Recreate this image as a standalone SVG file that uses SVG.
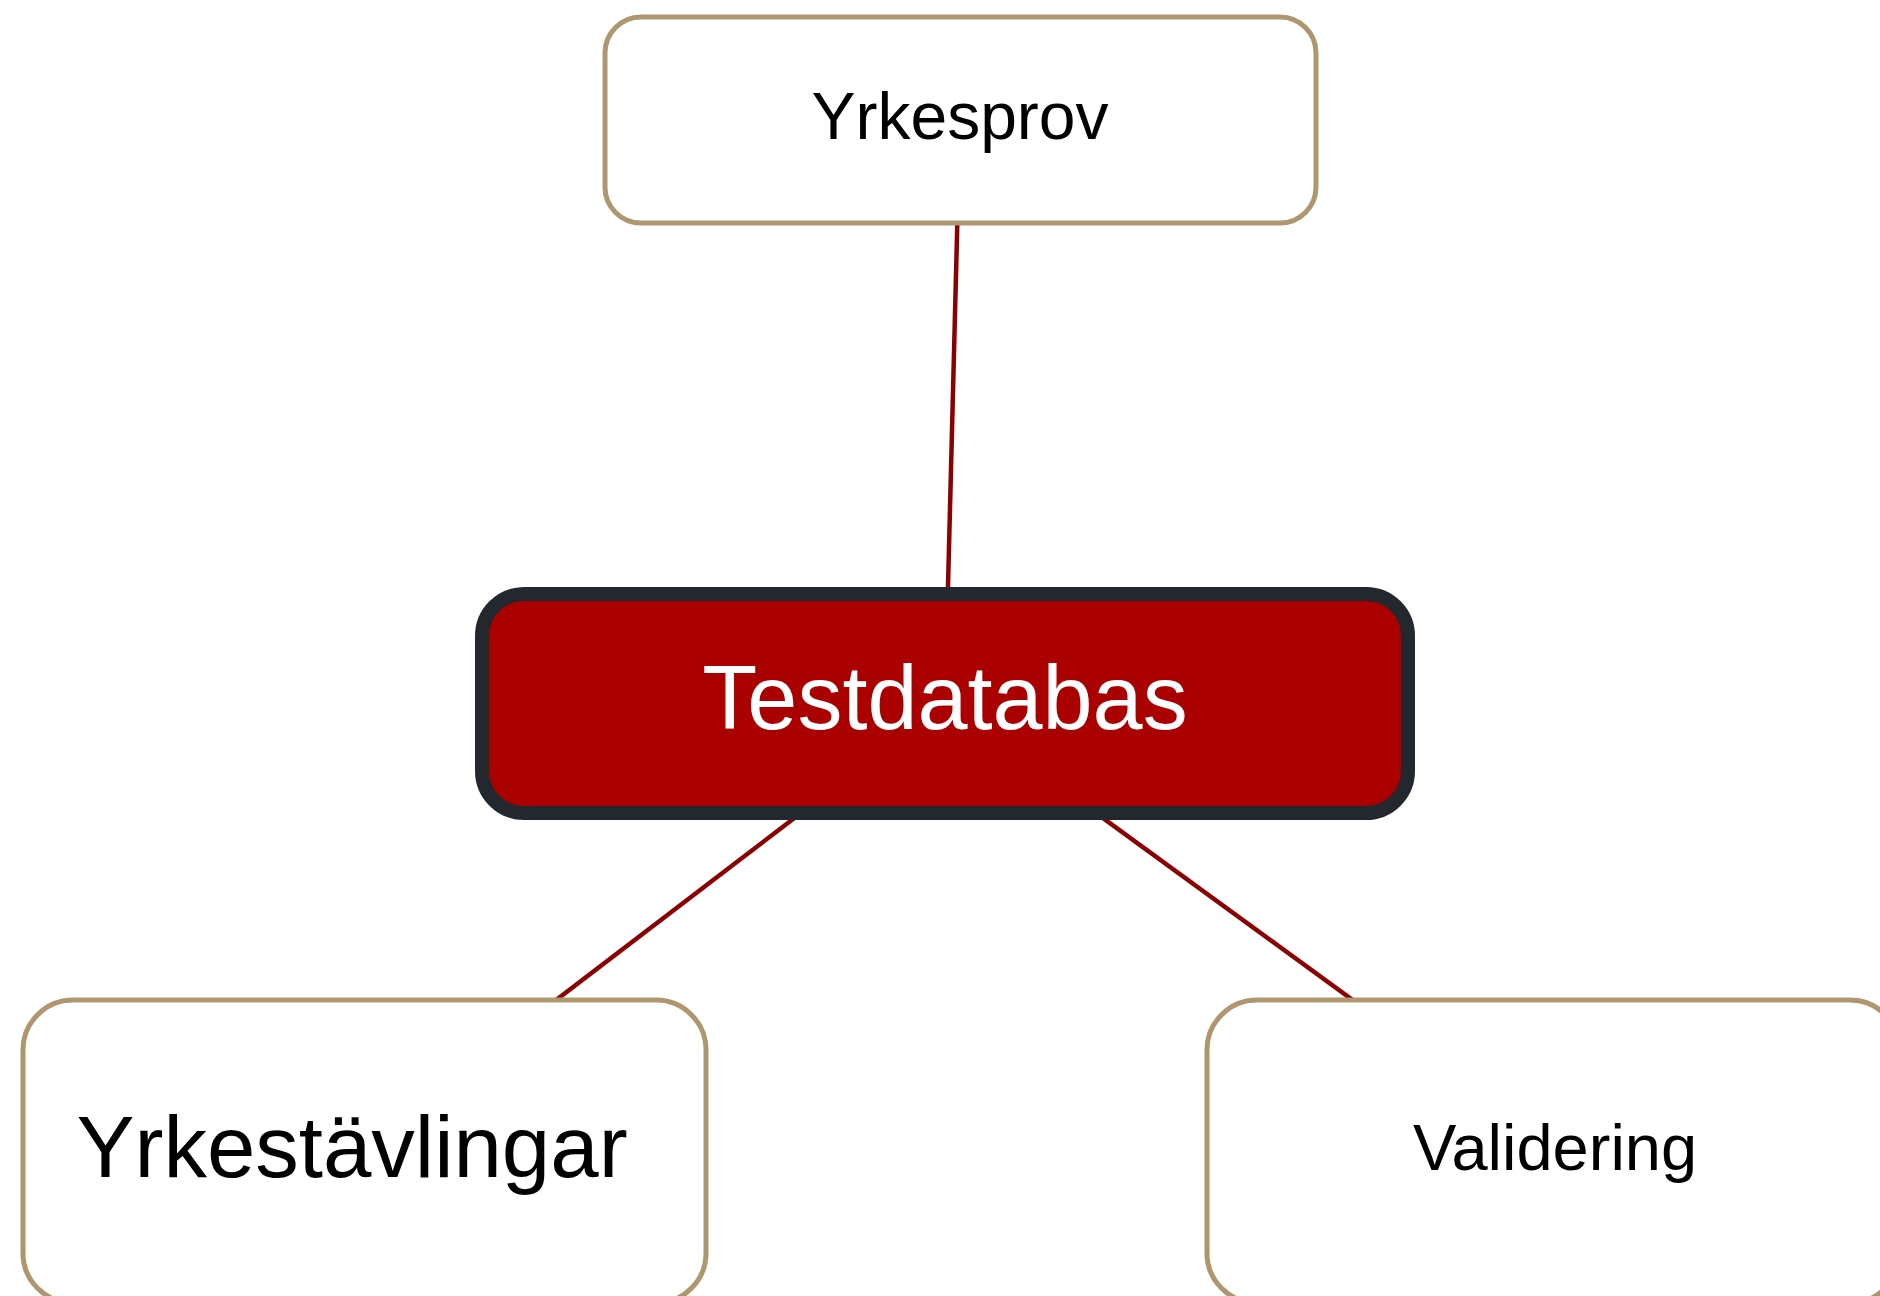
<svg xmlns="http://www.w3.org/2000/svg" width="1880" height="1296" viewBox="0 0 1880 1296">
<style>
.leaf{fill:#ffffff;stroke:#AF966E;stroke-width:5}
.hub{fill:#AA0000;stroke:#22282E;stroke-width:14}
.lbl{font-family:"Liberation Sans",Arial,sans-serif;text-anchor:middle;fill:#000}
.conn{stroke:#8B0000;stroke-width:4.5;fill:none}
</style>
<rect width="1880" height="1296" fill="#ffffff"/>
<g id="connectors">
<line class="conn" x1="960" y1="119" x2="945" y2="703"/>
<line class="conn" x1="945" y1="703" x2="365" y2="1146"/>
<line class="conn" x1="945" y1="703" x2="1553" y2="1146"/>
</g>
<g id="node-yrkesprov">
<rect class="leaf" x="605" y="17" width="711" height="206" rx="36"/>
<text class="lbl" x="960" y="139" font-size="66">Yrkesprov</text>
</g>
<g id="node-testdatabas">
<rect class="hub" x="482" y="594" width="926" height="219" rx="42"/>
<text class="lbl" x="945" y="729" font-size="90" style="fill:#ffffff">Testdatabas</text>
</g>
<g id="node-yrkestavlingar">
<rect class="leaf" x="23" y="1000" width="683" height="303" rx="50"/>
<text class="lbl" x="352" y="1177" font-size="87">Yrkestävlingar</text>
</g>
<g id="node-validering">
<rect class="leaf" x="1207" y="1000" width="693" height="303" rx="50"/>
<text class="lbl" x="1555" y="1170" font-size="65">Validering</text>
</g>
</svg>
